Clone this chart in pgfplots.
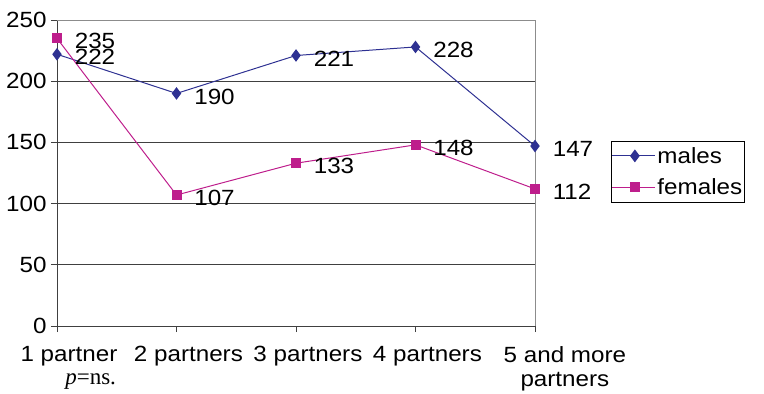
\documentclass[border=0pt]{standalone}
\usepackage{fontspec}
\setmainfont{Liberation Sans}[FakeStretch=1.1]
\newfontfamily\timesfont{Liberation Serif}
\usepackage{pgfplots}
\pgfplotsset{compat=1.18}
\definecolor{mblue}{RGB}{46,49,146}
\definecolor{fmag}{RGB}{190,30,140}
\begin{document}
\begin{tikzpicture}
\useasboundingbox (0,0) rectangle (764bp,394bp);
\begin{axis}[
  at={(57bp,68bp)}, anchor=south west,
  scale only axis, width=478bp, height=306bp,
  xmin=0, xmax=4, ymin=0, ymax=250,
  xtick={0,1,2,3,4},
  xticklabels={1 partner, 2 partners, 3 partners, 4 partners, {5 and more\\partners}},
  xticklabel style={align=center, xshift={12+18*(\ticknum==4)}, yshift=-11bp},
  ytick={0,50,...,250},
  ymajorgrids, major grid style={black!75, line width=0.8pt},
  axis x line*=bottom, axis y line*=left,
  axis line style={black!75, line width=1pt, -},
  tick style={black!75, line width=0.8pt},
  tick align=outside, major tick length=6bp,
  font=\fontsize{22bp}{24bp}\selectfont,
  /pgf/number format/assume math mode=true,
  yticklabel style={xshift=-1bp},
  legend style={at={(1.159,0.605)}, anchor=north west, draw=black, line width=0.6pt,
    font=\fontsize{22bp}{24bp}\selectfont, row sep=10bp, inner xsep=0bp, inner ysep=4bp},
  legend cell align=left,
  legend image code/.code={\draw[#1, line width=1.2pt] (-8bp,0bp) -- (35bp,0bp) plot coordinates {(15bp,0bp)};},
  clip=false,
  nodes near coords, point meta=explicit symbolic,
  every node near coord/.append style={anchor=west, xshift=14bp, yshift=-3bp, black, font=\fontsize{22bp}{24bp}\selectfont},
]
\draw[black!45, line width=1pt] (rel axis cs:0,1) -- (rel axis cs:1,1) -- (rel axis cs:1,0);
\addplot[mblue, line width=1pt, mark=diamond*, mark size=5.5bp, mark options={fill=mblue}] coordinates {
 (0,222) [222] (1,190) [190] (2,221) [221] (3,228) [228] (4,147) [147]};
\addlegendentry{males\hspace{22bp}}
\addplot[fmag, line width=1pt, mark=square*, mark size=4.5bp, mark options={fill=fmag}] coordinates {
 (0,235) [235] (1,107) [107] (2,133) [133] (3,148) [148] (4,112) [112]};
\addlegendentry{females\hspace{22bp}}
\node[anchor=west, font=\timesfont\fontsize{23bp}{25bp}\selectfont] at (rel axis cs:0.01,-0.18) {\textit{p}=ns.};
\end{axis}
\end{tikzpicture}
\end{document}
